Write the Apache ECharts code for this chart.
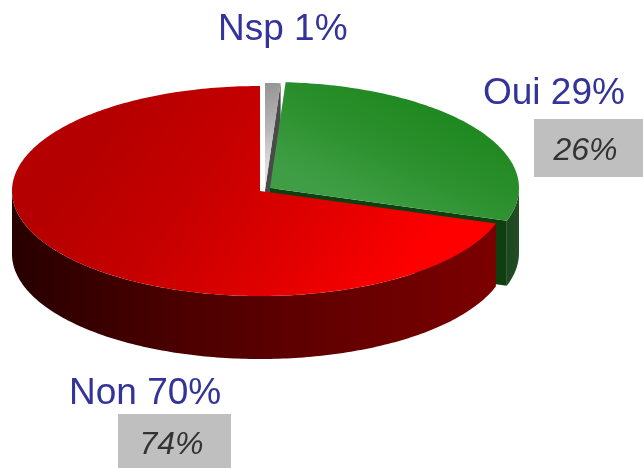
<!DOCTYPE html>
<html><head><meta charset="utf-8">
<style>html,body{margin:0;padding:0;background:#fff}#c{width:643px;height:468px}</style>
<script src="https://cdn.jsdelivr.net/npm/echarts@6/dist/echarts.min.js"></script>
</head><body><div id="c"></div>
<script>
// Slices in clockwise order from 12 o'clock
const categories = ['Nsp', 'Oui', 'Non'];
const values = [1, 29, 70];
const compareValues = [null, 26, 74];

const centers = [[265, 190], [270, 188], [260, 191]];
const radiiX = [249, 249, 248];
const radiiY = [107, 106, 105];
const depths = [63, 65, 63];
const grad = (x, y, x2, y2, stops) => new echarts.graphic.LinearGradient(x, y, x2, y2,
  stops.map((c, i) => ({offset: i / (stops.length - 1), color: c})), true);
const topFill = [
  grad(264, 85, 284, 165, ['#969696', '#b4b4b4', '#e0e0e0']),
  grad(440, 90, 380, 215, ['#1c861c', '#2a8f2c', '#3f9e45']),
  grad(130, 90, 400, 290, ['#b40000', '#c60000', '#e00000', '#ff0000'])
];
const wallFill = [
  '#555555',
  grad(495, 0, 520, 0, ['#16401a', '#244f25']),
  grad(12, 0, 497, 0, ['#280000', '#4a0000', '#640000', '#7c0000'])
];
const cutFill = ['#4a4a4a', '#0f3f10', '#5a0000'];

function rim(i, a0, a1) {
  const c = centers[i];
  const n = Math.max(2, Math.ceil(Math.abs(a1 - a0) * 60));
  const pts = [];
  for (let k = 0; k <= n; k++) {
    const t = a0 + (a1 - a0) * k / n;
    pts.push([c[0] + radiiX[i] * Math.sin(t), c[1] - radiiY[i] * Math.cos(t)]);
  }
  return pts;
}
const poly = (points, fill) => ({type: 'polygon', shape: {points}, style: {fill}});

function renderItem(params, api) {
  const i = params.dataIndex, total = values.reduce((a, b) => a + b, 0);
  const down = p => [p[0], p[1] + depths[i]];
  let before = 0;
  for (let k = 0; k < i; k++) before += values[k];
  const a0 = before / total * 2 * Math.PI;
  const a1 = (before + api.value(0)) / total * 2 * Math.PI;
  const c = centers[i];
  const edge = rim(i, a0, a1);
  const endP = edge[edge.length - 1];
  const children = [];
  // extruded cut face at the end of the slice
  children.push(poly([c, endP, down(endP), down(c)], cutFill[i]));
  // outer wall
  const wallA0 = Math.max(a0, Math.PI / 2), wallA1 = Math.min(a1, 1.5 * Math.PI);
  if (wallA1 > wallA0) {
    const w = rim(i, wallA0, wallA1);
    children.push(poly(w.concat(w.slice().reverse().map(down)), wallFill[i]));
  }
  // top face
  children.push(poly([c].concat(edge), topFill[i]));
  return {type: 'group', children};
}

const labelStyle = {fontFamily: '"Liberation Sans", Arial, sans-serif', fontSize: 37, fill: '#333399'};
const boxStyle = {fontFamily: '"Liberation Sans", Arial, sans-serif', fontSize: 32, fontStyle: 'italic', fill: '#333333'};
const lab = (i, x, y) => ({type: 'text', x, y, silent: true,
  style: Object.assign({text: categories[i] + ' ' + values[i] + '%', textVerticalAlign: 'middle'}, labelStyle)});
const box = (i, x, y, w, h, dx, dy) => [
  {type: 'rect', shape: {x, y, width: w, height: h}, style: {fill: '#bfbfbf'}, silent: true},
  {type: 'text', x: x + w / 2 + dx, y: y + h / 2 + dy, silent: true,
   style: Object.assign({text: compareValues[i] + '%', textAlign: 'center', textVerticalAlign: 'middle'}, boxStyle)}
];

const chart = echarts.init(document.getElementById('c'), null, {renderer: 'canvas'});
chart.setOption({
  animation: false,
  backgroundColor: '#ffffff',
  series: [{
    type: 'custom',
    coordinateSystem: 'none',
    silent: true,
    renderItem,
    data: values.map(v => [v])
  }],
  graphic: {elements: [
    lab(0, 218, 30),
    lab(1, 483, 94),
    lab(2, 69, 394),
    ...box(1, 534, 119, 109, 58, -3, 3),
    ...box(2, 118, 414, 113, 54, -3, 4)
  ]}
});
</script></body></html>
